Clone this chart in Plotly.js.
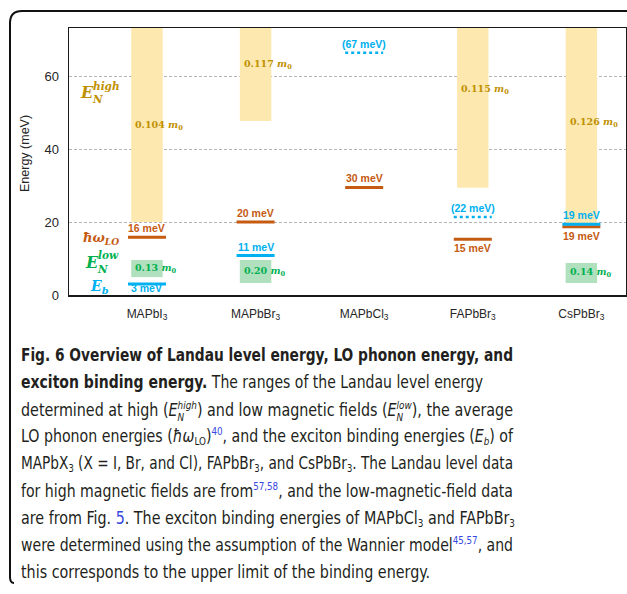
<!DOCTYPE html>
<html><head><meta charset="utf-8">
<script src="https://cdn.plot.ly/plotly-3.0.1.min.js"></script>
<style>
html,body{margin:0;padding:0;background:#fff;width:627px;height:594px;overflow:hidden;}
#chart{position:absolute;left:0;top:0;width:627px;height:335px;}
#frame{position:absolute;left:0;top:0;pointer-events:none;}
.cap{position:absolute;left:21px;white-space:nowrap;font-family:"Liberation Sans Narrow","DejaVu Sans Condensed","Roboto Condensed",Lato,sans-serif;font-size:18px;line-height:18px;color:#231f20;transform-origin:left center;}
.sup{font-size:0.62em;vertical-align:0.6em;line-height:0;}
.sub{font-size:0.62em;vertical-align:-0.3em;line-height:0;}
.ref{color:#3547e0;}
.ss{display:inline-flex;flex-direction:column;font-size:0.62em;line-height:1.15;vertical-align:0.62em;font-style:italic;}
.ss span{display:block;height:1.05em;}
</style></head>
<body>
<div id="chart"></div>
<svg id="frame" width="627" height="594"><path d="M14,583 Q10,583 10,577 L10,23 Q10,11 22,11 L627,11" fill="none" stroke="#111" stroke-width="2"/></svg>
<div id="caption"></div>
<script>
// ---------------- data ----------------
const categories = ['MAPbI<sub>3</sub>','MAPbBr<sub>3</sub>','MAPbCl<sub>3</sub>','FAPbBr<sub>3</sub>','CsPbBr<sub>3</sub>'];
// Landau level energy range at high magnetic field (meV); top runs past the axis
const highBottom = [20, 47.7, null, 29.4, 19.5];
const highTop    = [80, 80, null, 80, 80];
const highMass   = ['0.104', '0.117', null, '0.115', '0.126'];
const highLabelY = [46.6, 63.3, null, 56.4, 47.4];
// Landau level energy range at low magnetic field (meV)
const lowBottom = [4.9, 3.3, null, null, 3.3];
const lowTop    = [9.6, 9.6, null, null, 8.8];
const lowMass   = ['0.13', '0.20', null, null, '0.14'];
// average LO phonon energy (meV)
const loPhonon     = [15.8, 20, 29.5, 15.3, 18.7];
const loPhononText = ['16 meV', '20 meV', '30 meV', '15 meV', '19 meV'];
const loPhononSide = ['above', 'above', 'above', 'below', 'below'];
// exciton binding energy (meV); upper-limit estimates drawn dotted
const bindingEnergy = [3.0, 10.8, 66.4, 21.4, 19.4];
const bindingText   = ['3 meV', '11 meV', '(67 meV)', '(22 meV)', '19 meV'];
const bindingUpper  = [false, false, true, true, false];
const bindingSide   = ['on', 'above', 'above', 'above', 'above'];
const yTicks = [0, 20, 40, 60];

// ---------------- styles ----------------
const GOLD = '#bf9000', ORANGE = '#c55a11', BLUE = '#00b0f0', GREEN = '#00b050';
const BAR_W = 0.29, SEG_HW = 0.175;
const SANS = 'Liberation Sans, Arial, sans-serif';
const SERIF = 'DejaVu Serif, serif';

const idx = categories.map((_, i) => i);
function pick(arr) { return idx.filter(i => arr[i] !== null && arr[i] !== undefined); }
function segs(vals, keep) {
  const x = [], y = [];
  idx.forEach(i => { if (vals[i] !== null && keep(i)) { x.push(i - SEG_HW, i + SEG_HW, null); y.push(vals[i], vals[i], null); } });
  return {x, y};
}
const hi = pick(highBottom), lo = pick(lowBottom);
const traces = [
  {type:'bar', x: hi, base: hi.map(i => highBottom[i]), y: hi.map(i => highTop[i] - highBottom[i]),
   width: BAR_W, marker:{color:'#fde9b0', line:{width:0}}, hoverinfo:'skip'},
  {type:'bar', x: lo, base: lo.map(i => lowBottom[i]), y: lo.map(i => lowTop[i] - lowBottom[i]),
   width: BAR_W, marker:{color:'#b0e0be', line:{width:0}}, hoverinfo:'skip'},
];
const oS = segs(loPhonon, () => true);
traces.push({type:'scatter', mode:'lines', x:oS.x, y:oS.y, line:{color:ORANGE, width:3}, hoverinfo:'skip'});
const bS = segs(bindingEnergy, i => !bindingUpper[i]);
traces.push({type:'scatter', mode:'lines', x:bS.x, y:bS.y, line:{color:BLUE, width:3}, hoverinfo:'skip'});
const bD = segs(bindingEnergy, i => bindingUpper[i]);
traces.push({type:'scatter', mode:'lines', x:bD.x, y:bD.y, line:{color:BLUE, width:2.5, dash:'dot'}, hoverinfo:'skip'});

const shiftOf = {above: 9, below: -9, on: -4};
const ann = [];
idx.forEach(i => {
  ann.push({x:i, y:loPhonon[i], xref:'x', yref:'y', text:'<b>'+loPhononText[i]+'</b>', showarrow:false,
    yshift: shiftOf[loPhononSide[i]], font:{family:SANS, size:10.5, color:ORANGE}});
  ann.push({x:i, y:bindingEnergy[i], xref:'x', yref:'y', text:'<b>'+bindingText[i]+'</b>', showarrow:false,
    yshift: shiftOf[bindingSide[i]], font:{family:SANS, size:10.5, color:BLUE}});
  if (highMass[i]) ann.push({x:i - BAR_W/2, y:highLabelY[i], xref:'x', yref:'y', xanchor:'left', xshift:2,
    text:'<b>'+highMass[i]+' <i>m</i><sub>0</sub></b>', showarrow:false, font:{family:SERIF, size:9.5, color:GOLD}});
  if (lowMass[i]) ann.push({x:i - BAR_W/2, y:(lowBottom[i] + lowTop[i]) / 2, xref:'x', yref:'y', xanchor:'left', xshift:2,
    text:'<b>'+lowMass[i]+' <i>m</i><sub>0</sub></b>', showarrow:false, font:{family:SERIF, size:9.5, color:GREEN}});
});
// legend-like labels at the left of the plot (positions in pixels of the figure)
const PL = 69, PR = 626, PT = 28, PB = 295;
function px(x){ return (x - PL) / (PR - PL); }
function py(y){ return (PB - y) / (PB - PT); }
function lab(x, y, text, size, color) {
  ann.push({x:px(x), y:py(y), xref:'paper', yref:'paper', xanchor:'left', yanchor:'middle', text:text, showarrow:false,
    font:{family:SERIF, size:size, color:color}});
}
lab(78, 92, '<b><i>E</i></b>', 16, GOLD);
lab(91, 86, '<b><i>high</i></b>', 10.5, GOLD);
lab(90, 99, '<b><i>N</i></b>', 10.5, GOLD);
lab(81, 238, '<b><i>ħω</i><sub><i>LO</i></sub></b>', 13, ORANGE);
lab(83, 262, '<b><i>E</i></b>', 16, GREEN);
lab(96, 255, '<b><i>low</i></b>', 10.5, GREEN);
lab(95, 269, '<b><i>N</i></b>', 10.5, GREEN);
lab(88, 287, '<b><i>E<sub>b</sub></i></b>', 14, BLUE);
ann.push({x:px(25), y:py(154), xref:'paper', yref:'paper', xanchor:'center', yanchor:'middle',
  text:'Energy (meV)', textangle:-90, showarrow:false, font:{family:SANS, size:12.5, color:'#262626'}});

const layout = {
  width:627, height:335, margin:{l:69, r:1, t:28, b:40},
  paper_bgcolor:'rgba(0,0,0,0)', plot_bgcolor:'#fff', showlegend:false, barmode:'overlay',
  xaxis:{type:'linear', range:[-0.718, 4.411], tickvals:idx, ticktext:categories, showgrid:false, zeroline:false,
    showline:true, mirror:true, linecolor:'#1a1a1a', linewidth:1.5, ticks:'', ticklabelstandoff:7,
    tickfont:{family:SANS, size:12, color:'#262626'}, fixedrange:true},
  yaxis:{range:[0, 73.2], tickvals:yTicks, showgrid:true, gridcolor:'#b5b5b5', griddash:'3px,2px', gridwidth:1,
    zeroline:false, showline:true, mirror:true, linecolor:'#1a1a1a', linewidth:1.5, ticks:'', ticklabelstandoff:6,
    tickfont:{family:SANS, size:13, color:'#262626'}, fixedrange:true},
  annotations: ann
};
Plotly.newPlot('chart', traces, layout, {displayModeBar:false, staticPlot:true});

// ---------------- caption ----------------
const captionLines = [
  '<b>Fig. 6 Overview of Landau level energy, LO phonon energy, and</b>',
  '<b>exciton binding energy.</b> The ranges of the Landau level energy',
  'determined at high (<i>E</i><span class="ss"><span>high</span><span>N</span></span>) and low magnetic fields (<i>E</i><span class="ss"><span>low</span><span>N</span></span>), the average',
  'LO phonon energies (<i>ħω</i><span class="sub">LO</span>)<span class="sup ref">40</span>, and the exciton binding energies (<i>E<span class="sub">b</span></i>) of',
  'MAPbX<span class="sub">3</span> (X = I, Br, and Cl), FAPbBr<span class="sub">3</span>, and CsPbBr<span class="sub">3</span>. The Landau level data',
  'for high magnetic fields are from<span class="sup ref">57,58</span>, and the low-magnetic-field data',
  'are from Fig. <span class="ref">5</span>. The exciton binding energies of MAPbCl<span class="sub">3</span> and FAPbBr<span class="sub">3</span>',
  'were determined using the assumption of the Wannier model<span class="sup ref">45,57</span>, and',
  'this corresponds to the upper limit of the binding energy.'
];
const lineWidths = [492, 462, 492, 492, 492, 492, 494, 492, 409];
const cap = document.getElementById('caption');
captionLines.forEach((t, k) => {
  const d = document.createElement('div');
  d.className = 'cap';
  d.innerHTML = t;
  d.style.top = (360.7 + 27.2 * k - 15.2) + 'px';
  cap.appendChild(d);
  const w = d.getBoundingClientRect().width;
  const target = lineWidths[k];
  const spaces = (d.textContent.match(/ /g) || []).length;
  if (w > target) d.style.transform = 'scaleX(' + (target / w) + ')';
  else if (spaces) d.style.wordSpacing = ((target - w) / spaces) + 'px';
});
</script>
</body></html>
